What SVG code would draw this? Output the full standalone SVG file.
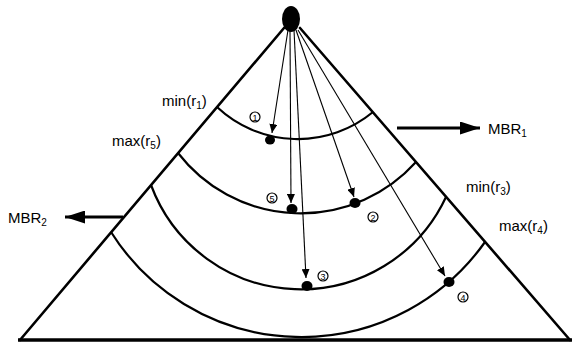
<svg xmlns="http://www.w3.org/2000/svg" width="572" height="343" viewBox="0 0 572 343">
<defs>
<marker id="ah" viewBox="0 0 10 10" refX="10" refY="5" markerWidth="9" markerHeight="8" markerUnits="userSpaceOnUse" orient="auto" preserveAspectRatio="none">
<path d="M0,0 L10,5 L0,10 Z" fill="#000"/>
</marker>
<marker id="bh" viewBox="0 0 10 10" refX="10" refY="5" markerWidth="20" markerHeight="13" markerUnits="userSpaceOnUse" orient="auto" preserveAspectRatio="none">
<path d="M0,0 L10,5 L0,10 Z" fill="#000"/>
</marker>
<style>
.edge{stroke:#000;stroke-width:2.6;fill:none;stroke-linecap:round}
.arc{stroke:#000;stroke-width:2.2;fill:none}
.ptr{stroke:#000;stroke-width:1.1;fill:none}
.mbr{stroke:#000;stroke-width:3;fill:none}
.lbl{font-family:"Liberation Sans",Arial,sans-serif;font-size:15px;fill:#000}
.sub{font-size:10px}
.ring{fill:#fff;stroke:#000;stroke-width:1.2}
.num{font-family:"Liberation Sans",Arial,sans-serif;font-size:9px;fill:#000;text-anchor:middle;dominant-baseline:central}
.dot{fill:#000}
</style>
</defs>
<g id="cone">
<line class="edge" x1="284" y1="28" x2="20" y2="340"/>
<line class="edge" x1="300" y1="28" x2="570" y2="340"/>
<line x1="18" y1="340" x2="572" y2="340" stroke="#000" stroke-width="3.5"/>
</g>
<g id="arcs">
<path class="arc" d="M217,107 A118,118 0 0,0 373,112"/>
<path class="arc" d="M178,153 A155,155 0 0,0 416,162"/>
<path class="arc" d="M151,185 A160,160 0 0,0 446,197"/>
<path class="arc" d="M111,232 A225,225 0 0,0 485,242"/>
</g>
<g id="apex">
<ellipse cx="291" cy="19" rx="9" ry="13" fill="#000"/>
</g>
<g id="connectors">
<line class="ptr" x1="288" y1="30" x2="272" y2="133" marker-end="url(#ah)"/>
<line class="ptr" x1="290" y1="30" x2="291" y2="203" marker-end="url(#ah)" stroke-width="1.8"/>
<line class="ptr" x1="294" y1="30" x2="306" y2="278" marker-end="url(#ah)"/>
<line class="ptr" x1="296" y1="30" x2="354" y2="197" marker-end="url(#ah)"/>
<line class="ptr" x1="298" y1="30" x2="445" y2="276" marker-end="url(#ah)"/>
<line class="mbr" x1="397" y1="128" x2="480" y2="128" marker-end="url(#bh)"/>
<line class="mbr" x1="123" y1="217" x2="65" y2="217" marker-end="url(#bh)"/>
</g>
<g id="r1"><ellipse class="dot" cx="270" cy="140" rx="5" ry="4.5"/><circle class="ring" cx="255" cy="117" r="5"/><text class="num" x="255" y="117.5">1</text></g>
<g id="r5"><ellipse class="dot" cx="292" cy="209" rx="5.5" ry="5"/><circle class="ring" cx="272" cy="198" r="5"/><text class="num" x="272" y="198.5">5</text></g>
<g id="r2"><ellipse class="dot" cx="355" cy="203" rx="5.5" ry="5"/><circle class="ring" cx="373" cy="217" r="5"/><text class="num" x="373" y="217.5">2</text></g>
<g id="r3"><ellipse class="dot" cx="307" cy="286" rx="5.5" ry="5"/><circle class="ring" cx="323" cy="276" r="5"/><text class="num" x="323" y="276.5">3</text></g>
<g id="r4"><ellipse class="dot" cx="449" cy="282" rx="5.5" ry="5"/><circle class="ring" cx="463" cy="297" r="5"/><text class="num" x="463" y="297.5">4</text></g>
<g id="labels">
<text class="lbl" x="162" y="106">min(r<tspan class="sub" dy="3">1</tspan><tspan dy="-3">)</tspan></text>
<text class="lbl" x="112" y="146">max(r<tspan class="sub" dy="3">5</tspan><tspan dy="-3">)</tspan></text>
<text class="lbl" x="488" y="134">MBR<tspan class="sub" dy="3">1</tspan></text>
<text class="lbl" x="466" y="192">min(r<tspan class="sub" dy="3">3</tspan><tspan dy="-3">)</tspan></text>
<text class="lbl" x="499" y="231">max(r<tspan class="sub" dy="3">4</tspan><tspan dy="-3">)</tspan></text>
<text class="lbl" x="8" y="223">MBR<tspan class="sub" dy="3">2</tspan></text>
</g>
</svg>
